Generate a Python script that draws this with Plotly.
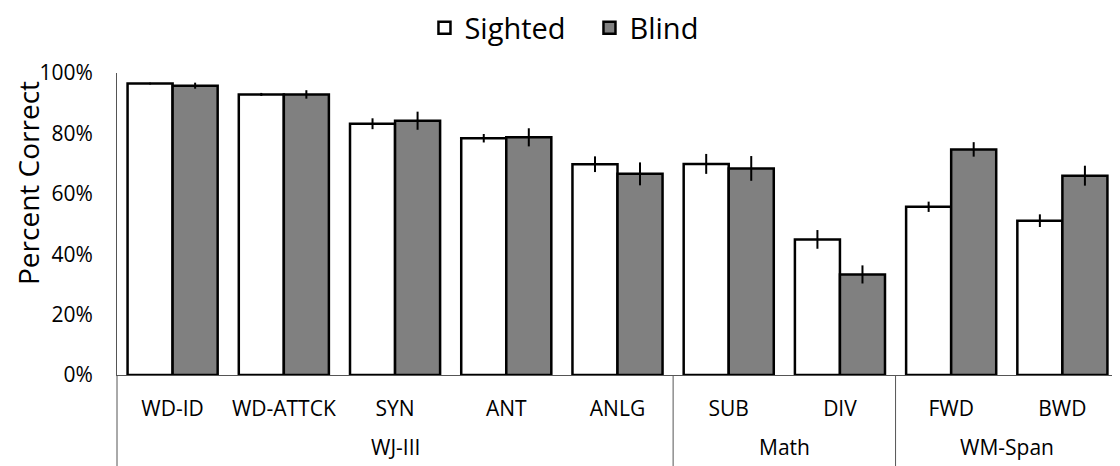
import plotly.graph_objects as go

groups = ["WJ-III"] * 5 + ["Math"] * 2 + ["WM-Span"] * 2
tests = ["WD-ID", "WD-ATTCK", "SYN", "ANT", "ANLG", "SUB", "DIV", "FWD", "BWD"]
sighted = [96.5, 92.9, 83.2, 78.4, 69.8, 69.9, 44.9, 55.7, 51.1]
sighted_err = [0.3, 0.5, 1.8, 1.4, 2.6, 3.3, 3.1, 1.7, 2.1]
blind = [95.8, 92.9, 84.2, 78.7, 66.6, 68.4, 33.3, 74.7, 66.0]
blind_err = [1.0, 1.4, 3.0, 3.0, 3.8, 4.1, 3.0, 2.4, 3.3]
y_ticks = [0, 20, 40, 60, 80, 100]
y_ticktext = [f"{v}%" for v in y_ticks]

FONT = "Open Sans"
AXIS_COLOR = "#555555"

# figure layout (page has 8px body margin)
W, H = 1112, 458
L, T, R, B = 109, 65, 2, 91
plot_h = H - T - B
plot_w = W - L - R

fig = go.Figure()
fig.add_trace(go.Bar(
    name="Sighted", x=tests, y=sighted,
    marker=dict(color="white", line=dict(color="black", width=2.5)),
    error_y=dict(type="data", array=sighted_err, color="black", thickness=2, width=0),
))
fig.add_trace(go.Bar(
    name="Blind", x=tests, y=blind,
    marker=dict(color="#808080", line=dict(color="black", width=2.5)),
    error_y=dict(type="data", array=blind_err, color="black", thickness=2, width=0),
))

fig.update_layout(
    width=W, height=H,
    margin=dict(l=L, r=R, t=T, b=B, autoexpand=False),
    paper_bgcolor="white", plot_bgcolor="white",
    barmode="group", bargap=0.19, bargroupgap=0,
    font=dict(family=FONT, color="black", size=21),
    legend=dict(orientation="h", x=0.472, xanchor="center", y=1 - 20 / H, yref="container",
                yanchor="middle", font=dict(size=29, family=FONT), itemwidth=30,
                entrywidth=120, entrywidthmode="pixels",
                traceorder="normal"),
    showlegend=True,
)
fig.update_xaxes(
    type="category", showline=True, linecolor=AXIS_COLOR, linewidth=1,
    showgrid=False, ticks="", ticklabelstandoff=15,
    tickfont=dict(size=21, family=FONT),
)
fig.update_yaxes(
    range=[0, 100], tickmode="array", tickvals=y_ticks, ticktext=y_ticktext,
    showgrid=False, showline=True, linecolor=AXIS_COLOR, linewidth=1, ticks="",
    ticklabelstandoff=19,
    tickfont=dict(size=21, family=FONT),
)

# y-axis title placed as in the reference (slightly above plot centre)
fig.add_annotation(x=(20 - L) / plot_w, xref="paper", y=1 - 110 / plot_h, yref="paper",
                   text="Percent Correct", textangle=-90, showarrow=False,
                   xanchor="center", yanchor="middle",
                   font=dict(size=28, family=FONT))

# extended left axis line and group dividers below the axis
bottom = -B / plot_h
fig.add_shape(type="line", xref="paper", yref="paper", x0=0, x1=0, y0=0, y1=bottom,
              line=dict(color=AXIS_COLOR, width=1))
for i in range(1, len(groups)):
    if groups[i] != groups[i - 1]:
        fig.add_shape(type="line", xref="x", yref="paper", x0=i - 0.5, x1=i - 0.5,
                      y0=0, y1=bottom, line=dict(color=AXIS_COLOR, width=1))

# group labels
seen = []
for g in groups:
    if g not in seen:
        seen.append(g)
for g in seen:
    idx = [i for i, gg in enumerate(groups) if gg == g]
    center = (idx[0] + idx[-1]) / 2
    fig.add_annotation(x=center, xref="x", y=-72 / plot_h, yref="paper", text=g,
                       showarrow=False, yanchor="middle",
                       font=dict(size=21, family=FONT))

fig.write_html("out.html")
